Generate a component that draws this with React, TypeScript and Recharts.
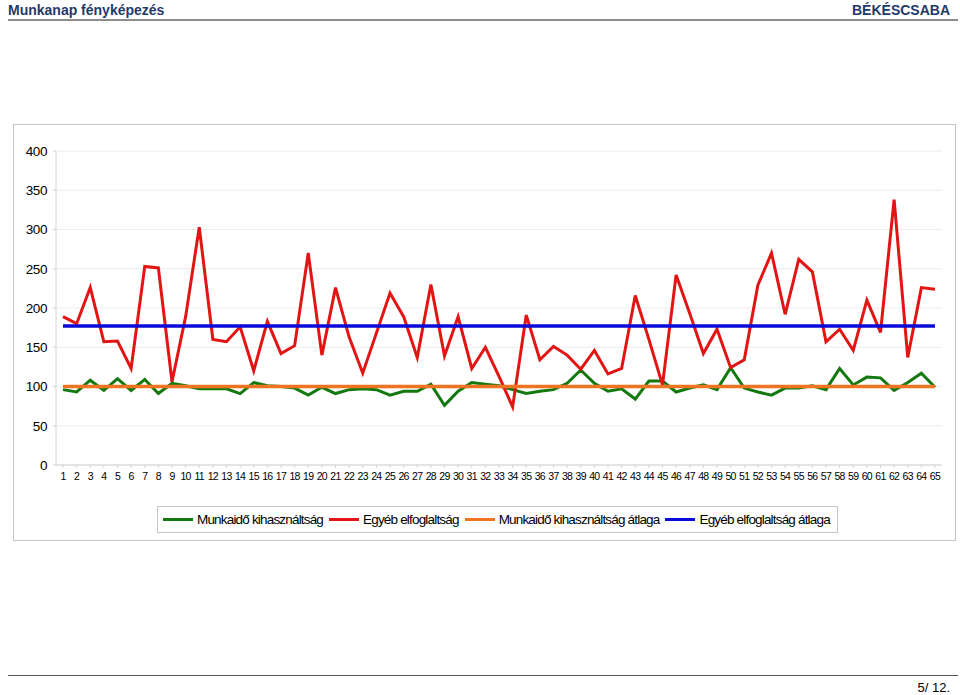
import React from "react";
import { LineChart, Line, XAxis, YAxis, CartesianGrid } from "recharts";

// napok (x tengely)
const napok: string[] = [
  "1", "2", "3", "4", "5", "6", "7", "8", "9", "10", "11", "12", "13",
  "14", "15", "16", "17", "18", "19", "20", "21", "22", "23", "24", "25", "26",
  "27", "28", "29", "30", "31", "32", "33", "34", "35", "36", "37", "38", "39",
  "40", "41", "42", "43", "44", "45", "46", "47", "48", "49", "50", "51", "52",
  "53", "54", "55", "56", "57", "58", "59", "60", "61", "62", "63", "64", "65",
];

const munkaidoKihasznaltsag: number[] = [
  96, 93, 108, 95, 110, 95, 109, 91, 104, 101, 97, 97, 97,
  91, 105, 101, 100, 98, 89, 99, 91, 96, 97, 96, 89, 94,
  94, 103, 76, 94, 105, 103, 101, 96, 91, 94, 96, 104, 121,
  104, 94, 97, 84, 107, 107, 93, 98, 102, 96, 124, 98, 93,
  89, 98, 98, 101, 96, 123, 102, 112, 111, 95, 105, 117, 99,
];

const egyebElfoglaltsag: number[] = [
  189, 180, 226, 157, 158, 123, 253, 251, 106, 189, 303, 160, 157,
  176, 120, 183, 142, 152, 270, 140, 226, 163, 117, 168, 219, 189,
  137, 230, 139, 189, 123, 150, 113, 74, 191, 134, 151, 140, 122,
  146, 116, 123, 216, 160, 102, 242, 193, 142, 173, 124, 134, 229,
  270, 192, 262, 246, 157, 173, 146, 210, 169, 338, 137, 226, 224,
];

const munkaidoAtlag = 100;
const egyebAtlag = 177;

const yTicks: number[] = [0, 50, 100, 150, 200, 250, 300, 350, 400];

const data = napok.map((nap, i) => ({
  nap,
  munkaido: munkaidoKihasznaltsag[i],
  egyeb: egyebElfoglaltsag[i],
  munkaidoAtlag,
  egyebAtlag,
}));

const GREEN = "#13780f";
const RED = "#e31414";
const ORANGE = "#ef7422";
const BLUE = "#0a0ad8";

const legendItems = [
  { label: "Munkaidő kihasználtság", color: GREEN },
  { label: "Egyéb elfoglaltság", color: RED },
  { label: "Munkaidő kihasználtság átlaga", color: ORANGE },
  { label: "Egyéb elfoglaltság átlaga", color: BLUE },
];

const font = "'Liberation Sans', Arial, sans-serif";

export default function App() {
  return (
    <div
      style={{
        position: "absolute",
        left: 0,
        top: 0,
        width: 960,
        height: 695,
        background: "#fff",
        fontFamily: font,
      }}
    >
      {/* fejléc */}
      <div
        style={{
          position: "absolute",
          left: 8,
          top: 2,
          fontSize: 14,
          fontWeight: "bold",
          color: "#1f3a6a",
        }}
      >
        Munkanap fényképezés
      </div>
      <div
        style={{
          position: "absolute",
          right: 10,
          top: 2,
          fontSize: 14,
          fontWeight: "bold",
          color: "#1f3a6a",
        }}
      >
        BÉKÉSCSABA
      </div>
      <div
        style={{
          position: "absolute",
          left: 8,
          top: 19,
          width: 950,
          height: 2,
          background: "#8c8c8c",
        }}
      />

      {/* diagram */}
      <div
        style={{
          position: "absolute",
          left: 13,
          top: 124,
          width: 943,
          height: 417,
          border: "1px solid #c4c4c4",
          boxSizing: "border-box",
        }}
      >
        <LineChart
          width={941}
          height={415}
          data={data}
          margin={{ top: 26, right: 13, left: 0, bottom: 55 }}
        >
          <CartesianGrid vertical={false} stroke="#ececec" />
          <XAxis
            dataKey="nap"
            interval={0}
            height={20}
            padding={{ left: 7, right: 7 }}
            tick={{ fontSize: 10.5, fill: "#000", fontFamily: font, letterSpacing: -0.6 }}
            tickSize={3}
            tickMargin={5}
            stroke="#d4d4d4"
          />
          <YAxis
            width={42}
            domain={[0, 400]}
            ticks={yTicks}
            interval={0}
            tick={{ fontSize: 13.5, fill: "#000", fontFamily: font, letterSpacing: -0.4 }}
            tickSize={3}
            tickMargin={6}
            stroke="#d4d4d4"
          />
          <Line
            dataKey="munkaido"
            stroke={GREEN}
            strokeWidth={3}
            dot={false}
            isAnimationActive={false}
          />
          <Line
            dataKey="egyeb"
            stroke={RED}
            strokeWidth={3}
            dot={false}
            isAnimationActive={false}
          />
          <Line
            dataKey="munkaidoAtlag"
            stroke={ORANGE}
            strokeWidth={3.5}
            dot={false}
            isAnimationActive={false}
          />
          <Line
            dataKey="egyebAtlag"
            stroke={BLUE}
            strokeWidth={3.5}
            dot={false}
            isAnimationActive={false}
          />
        </LineChart>

        {/* jelmagyarázat */}
        <div
          style={{
            position: "absolute",
            left: 143,
            top: 381,
            width: 681,
            height: 27,
            border: "1px solid #c4c4c4",
            boxSizing: "border-box",
            display: "flex",
            alignItems: "center",
            paddingLeft: 5,
            fontSize: 13.5,
            letterSpacing: -0.82,
            color: "#000",
            whiteSpace: "nowrap",
          }}
        >
          {legendItems.map((item) => (
            <div
              key={item.label}
              style={{ display: "flex", alignItems: "center", marginRight: 6 }}
            >
              <span
                style={{
                  display: "inline-block",
                  width: 30,
                  height: 3,
                  background: item.color,
                  marginRight: 4,
                }}
              />
              <span>{item.label}</span>
            </div>
          ))}
        </div>
      </div>

      {/* lábléc */}
      <div
        style={{
          position: "absolute",
          left: 8,
          top: 675,
          width: 950,
          height: 1,
          background: "#555",
        }}
      />
      <div
        style={{
          position: "absolute",
          right: 10,
          top: 680,
          fontSize: 13,
          color: "#000",
        }}
      >
        5/ 12.
      </div>
    </div>
  );
}
